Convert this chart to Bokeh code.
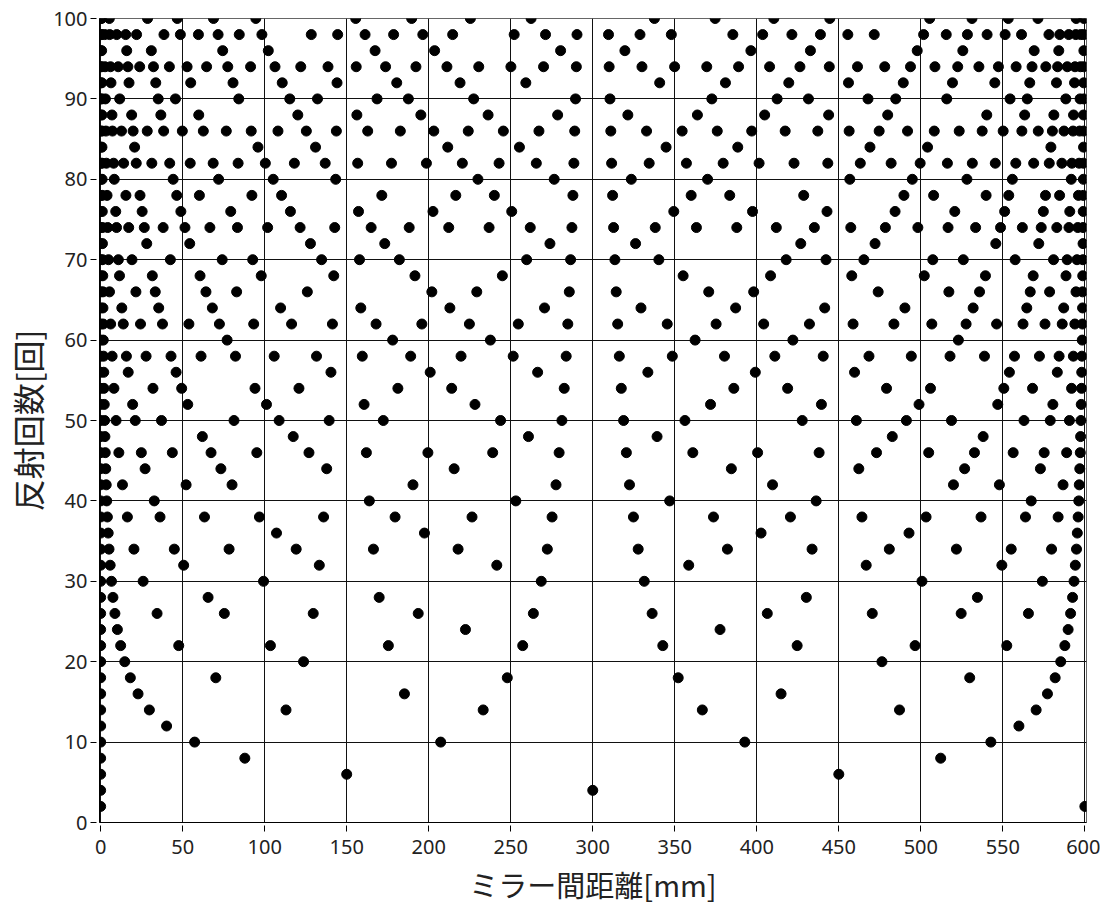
from bokeh.plotting import figure
from bokeh.models import Range1d, FixedTicker, ColumnDataSource
from bokeh.embed import file_html
from bokeh.resources import INLINE

# Reflection counts (y) and the mirror distances [mm] (x) at which each count occurs
reflections = [2, 4, 6, 8, 10, 12, 14, 16, 18, 20, 22, 24, 26, 28, 30, 32, 34, 36, 38, 40,
               42, 44, 46, 48, 50, 52, 54, 56, 58, 60, 62, 64, 66, 68, 70, 72, 74, 76, 78, 80,
               82, 84, 86, 88, 90, 92, 94, 96, 98, 100]

d_002 = [0, 600]
d_004 = [0, 300]
d_006 = [0, 150, 450]
d_008 = [0, 87.9, 512.1]
d_010 = [0, 57.3, 207.3, 392.7, 542.7]
d_012 = [0, 40.2, 559.8]
d_014 = [0, 29.7, 113.0, 233.2, 366.8, 487.0, 570.3]
d_016 = [0, 22.8, 185.2, 414.8, 577.2]
d_018 = [0, 18.1, 70.2, 247.9, 352.1, 529.8, 581.9]
d_020 = [0, 14.7, 123.7, 476.3, 585.3]
d_022 = [0, 12.2, 47.6, 103.5, 175.4, 257.3, 342.7, 424.6, 496.5, 552.4, 587.8]
d_024 = [0, 10.2, 222.4, 377.6, 589.8]
d_026 = [0, 8.7, 34.4, 75.4, 129.6, 193.6, 263.8, 336.2, 406.4, 470.4, 524.6, 565.6, 591.3]
d_028 = [0, 7.5, 65.5, 169.8, 430.2, 534.5, 592.5]
d_030 = [0, 6.6, 25.9, 99.3, 268.6, 331.4, 500.7, 574.1, 593.4]
d_032 = [0, 5.8, 50.6, 133.3, 241.5, 358.5, 466.7, 549.4, 594.2]
d_034 = [0, 5.1, 20.3, 44.9, 78.3, 119.2, 166.3, 217.9, 272.3, 327.7, 382.1, 433.7, 480.8,
         521.7, 555.1, 579.7, 594.9]
d_036 = [0, 4.6, 107.2, 197.4, 402.6, 492.8, 595.4]
d_038 = [0, 4.1, 16.3, 36.2, 63.3, 96.8, 135.9, 179.5, 226.4, 275.2, 324.8, 373.6, 420.5,
         464.1, 503.2, 536.7, 563.8, 583.7, 595.9]
d_040 = [0, 3.7, 32.7, 163.8, 253.1, 346.9, 436.2, 567.3, 596.3]
d_042 = [0, 3.4, 13.3, 52.1, 80.1, 190.4, 277.6, 322.4, 409.6, 519.9, 547.9, 586.7, 596.6]
d_044 = [0, 3.1, 27.1, 73.3, 137.8, 215.5, 384.5, 462.2, 526.7, 572.9, 596.9]
d_046 = [0, 2.8, 11.1, 24.8, 43.7, 67.3, 95.2, 127.0, 162.0, 199.5, 239.0, 279.5, 320.5,
         361.0, 400.5, 438.0, 473.0, 504.8, 532.7, 556.3, 575.2, 588.9, 597.2]
d_048 = [0, 2.6, 62.0, 117.4, 260.8, 339.2, 482.6, 538.0, 597.4]
d_050 = [0, 2.4, 9.4, 21.1, 37.1, 81.3, 108.8, 139.3, 172.3, 243.8, 281.2, 318.8, 356.2,
         427.7, 460.7, 491.2, 518.7, 562.9, 578.9, 590.6, 597.6]
d_052 = [0, 2.2, 19.5, 53.1, 101.1, 160.6, 228.2, 371.8, 439.4, 498.9, 546.9, 580.5, 597.8]
d_054 = [0, 2.0, 8.1, 31.9, 49.4, 94.1, 120.9, 181.2, 214.0, 282.6, 317.4, 386.0, 418.8,
         479.1, 505.9, 550.6, 568.1, 591.9, 598.0]
d_056 = [0, 1.9, 16.8, 46.0, 140.4, 200.9, 266.4, 333.6, 399.1, 459.6, 554.0, 583.2, 598.1]
d_058 = [0, 1.8, 7.0, 15.7, 27.7, 42.9, 61.2, 82.2, 105.8, 131.6, 159.5, 189.0, 219.7,
         251.5, 283.8, 316.2, 348.5, 380.3, 411.0, 440.5, 468.4, 494.2, 517.8, 538.8,
         557.1, 572.3, 584.3, 593.0, 598.2]
d_060 = [0, 1.6, 77.1, 178.0, 237.6, 362.4, 422.0, 522.9, 598.4]
d_062 = [0, 1.5, 6.1, 13.8, 24.3, 37.7, 53.8, 72.4, 93.3, 116.4, 141.3, 167.9, 195.8,
         224.8, 254.6, 284.8, 315.2, 345.4, 375.2, 404.2, 432.1, 458.7, 483.6, 506.7,
         527.6, 546.2, 562.3, 575.7, 586.2, 593.9, 598.5]
d_064 = [0, 1.4, 12.9, 35.4, 68.1, 109.7, 158.6, 212.9, 270.6, 329.4, 387.1, 441.4, 490.3,
         531.9, 564.6, 587.1, 598.6]
d_066 = [0, 1.4, 5.4, 21.5, 33.3, 64.2, 82.9, 126.0, 201.9, 229.3, 285.7, 314.3, 370.7,
         398.1, 474.0, 517.1, 535.8, 566.7, 578.5, 594.6, 598.6]
d_068 = [0, 1.3, 11.5, 31.5, 60.6, 97.9, 142.1, 191.6, 244.9, 355.1, 408.4, 457.9, 502.1,
         539.4, 568.5, 588.5, 598.7]
d_070 = [0, 1.2, 4.8, 10.8, 19.1, 42.5, 74.1, 92.7, 134.7, 157.8, 182.1, 259.7, 286.5,
         313.5, 340.3, 417.9, 442.2, 465.3, 507.3, 525.9, 557.5, 580.9, 589.2, 595.2, 598.8]
d_072 = [0, 1.1, 28.1, 54.3, 127.9, 173.2, 273.9, 326.1, 426.8, 472.1, 545.7, 571.9, 598.9]
d_074 = [0, 1.1, 4.3, 9.7, 17.1, 26.6, 38.1, 51.4, 66.6, 83.4, 101.8, 121.6, 142.7, 164.9,
         188.1, 212.2, 236.8, 261.9, 287.3, 312.7, 338.1, 363.2, 387.8, 411.9, 435.1, 457.3,
         478.4, 498.2, 516.6, 533.4, 548.6, 561.9, 573.4, 582.9, 590.3, 595.7, 598.9]
d_076 = [0, 1.0, 9.2, 25.3, 48.9, 79.3, 115.7, 157.2, 202.6, 250.6, 349.4, 397.4, 442.8,
         484.3, 520.7, 551.1, 574.7, 590.8, 599.0]
d_078 = [0, 1.0, 3.9, 15.4, 24.0, 46.4, 60.2, 92.2, 110.3, 171.4, 216.5, 240.0, 287.9,
         312.1, 360.0, 383.5, 428.6, 489.7, 507.8, 539.8, 553.6, 576.0, 584.6, 596.1, 599.0]
d_080 = [0, 0.9, 8.3, 44.2, 71.9, 105.2, 143.3, 230.0, 276.5, 323.5, 370.0, 456.7, 494.8,
         528.1, 555.8, 591.7, 599.1]
d_082 = [0, 0.9, 3.5, 7.9, 14.0, 21.7, 31.2, 42.1, 54.6, 68.6, 83.8, 100.4, 118.1, 136.9,
         156.7, 177.3, 198.6, 220.5, 242.9, 265.6, 288.5, 311.5, 334.4, 357.1, 379.5, 401.4,
         422.7, 443.3, 463.1, 481.9, 499.6, 516.2, 531.4, 545.4, 557.9, 568.8, 578.3, 586.0,
         592.1, 596.5, 599.1]
d_084 = [0, 0.8, 20.7, 95.9, 131.0, 211.6, 255.3, 344.7, 388.4, 469.0, 504.1, 579.3, 599.2]
d_086 = [0, 0.8, 3.2, 7.2, 12.7, 19.8, 28.4, 38.4, 49.8, 62.6, 76.6, 91.8, 108.1, 125.4,
         143.7, 162.8, 182.7, 203.1, 224.1, 245.5, 267.2, 289.0, 311.0, 332.8, 354.5, 375.9,
         396.9, 417.3, 437.2, 456.3, 474.6, 491.9, 508.2, 523.4, 537.4, 550.2, 561.6, 571.6,
         580.2, 587.3, 592.8, 596.8, 599.2]
d_088 = [0, 0.8, 6.9, 18.9, 36.7, 59.8, 120.2, 156.2, 195.2, 236.2, 278.6, 321.4, 363.8,
         404.8, 443.8, 479.8, 540.2, 563.3, 581.1, 593.1, 599.2]
d_090 = [0, 0.7, 2.9, 11.6, 35.1, 45.6, 84.2, 115.3, 132.2, 168.5, 187.6, 227.4, 289.5,
         310.5, 372.6, 412.4, 431.5, 467.8, 484.7, 515.8, 554.4, 564.9, 588.4, 597.1, 599.3]
d_092 = [0, 0.7, 6.3, 17.3, 33.6, 54.9, 80.7, 110.7, 144.1, 180.5, 219.1, 259.2, 340.8,
         380.9, 419.5, 455.9, 489.3, 519.3, 545.1, 566.4, 582.7, 593.7, 599.3]
d_094 = [0, 0.7, 2.7, 6.0, 10.7, 16.6, 23.8, 32.2, 41.9, 52.7, 64.6, 77.5, 91.4, 106.3,
         122.0, 138.6, 155.8, 173.7, 192.2, 211.1, 230.5, 250.1, 270.0, 290.0, 310.0, 330.0,
         349.9, 369.5, 388.9, 407.8, 426.3, 444.2, 461.4, 478.0, 493.7, 508.6, 522.5, 535.4,
         547.3, 558.1, 567.8, 576.2, 583.4, 589.3, 594.0, 597.3, 599.3]
d_096 = [0, 0.6, 15.9, 30.9, 74.4, 102.2, 167.3, 203.6, 280.4, 319.6, 396.4, 432.7, 497.8,
         525.6, 569.1, 584.1, 599.4]
d_098 = [0, 0.6, 2.5, 5.5, 9.8, 15.3, 21.9, 38.6, 48.6, 59.6, 71.6, 84.5, 98.3, 128.4,
         144.5, 161.2, 178.6, 196.4, 214.6, 252.1, 271.2, 290.4, 309.6, 328.8, 347.9, 385.4,
         403.6, 421.4, 438.8, 455.5, 471.6, 501.7, 515.5, 528.4, 540.4, 551.4, 561.4, 578.1,
         584.7, 590.2, 594.5, 597.5, 599.4]
d_100 = [0, 0.6, 5.3, 28.6, 46.7, 68.8, 94.6, 155.5, 189.6, 225.4, 262.4, 337.6, 374.6,
         410.4, 444.5, 505.4, 531.2, 553.3, 571.4, 594.7, 599.4]

distances = [d_002, d_004, d_006, d_008, d_010, d_012, d_014, d_016, d_018, d_020,
             d_022, d_024, d_026, d_028, d_030, d_032, d_034, d_036, d_038, d_040,
             d_042, d_044, d_046, d_048, d_050, d_052, d_054, d_056, d_058, d_060,
             d_062, d_064, d_066, d_068, d_070, d_072, d_074, d_076, d_078, d_080,
             d_082, d_084, d_086, d_088, d_090, d_092, d_094, d_096, d_098, d_100]

x_ticks = [0, 50, 100, 150, 200, 250, 300, 350, 400, 450, 500, 550, 600]
y_ticks = [0, 10, 20, 30, 40, 50, 60, 70, 80, 90, 100]

xs, ys = [], []
for n, row in zip(reflections, distances):
    xs.extend(row)
    ys.extend([n] * len(row))
src = ColumnDataSource(data=dict(x=xs, y=ys))

p = figure(width=1100, height=907, output_backend="svg", toolbar_location=None,
           x_range=Range1d(-0.7, 601), y_range=Range1d(0, 100),
           min_border_left=99, min_border_top=18, min_border_right=14, min_border_bottom=85)
p.scatter("x", "y", source=src, size=10, color="black")
p.xaxis.ticker = FixedTicker(ticks=x_ticks)
p.yaxis.ticker = FixedTicker(ticks=y_ticks)
p.xaxis.axis_label = "ミラー間距離[mm]"
p.yaxis.axis_label = "反射回数[回]"
for ax in (p.xaxis, p.yaxis):
    ax.axis_label_text_font = "Noto Sans CJK JP"
    ax.axis_label_text_font_style = "normal"
    ax.axis_label_text_color = "#222222"
    ax.major_label_text_font = "Noto Sans"
    ax.major_label_text_font_size = "20px"
    ax.major_label_text_color = "#222222"
    ax.axis_line_color = "black"
    ax.major_tick_line_color = "black"
    ax.major_tick_out = 9
    ax.major_tick_in = -3
    ax.minor_tick_line_color = None
p.xaxis.axis_label_text_font_size = "29px"
p.yaxis.axis_label_text_font_size = "32px"
p.xaxis.major_label_standoff = 8
p.yaxis.major_label_standoff = 3
p.xaxis.axis_label_standoff = 6
p.yaxis.axis_label_standoff = 0
p.grid.grid_line_color = "#111111"
p.grid.grid_line_alpha = 1.0
p.outline_line_color = "#666666"
p.background_fill_color = "white"
p.border_fill_color = "white"

open("out.html", "w").write(file_html(p, INLINE))
